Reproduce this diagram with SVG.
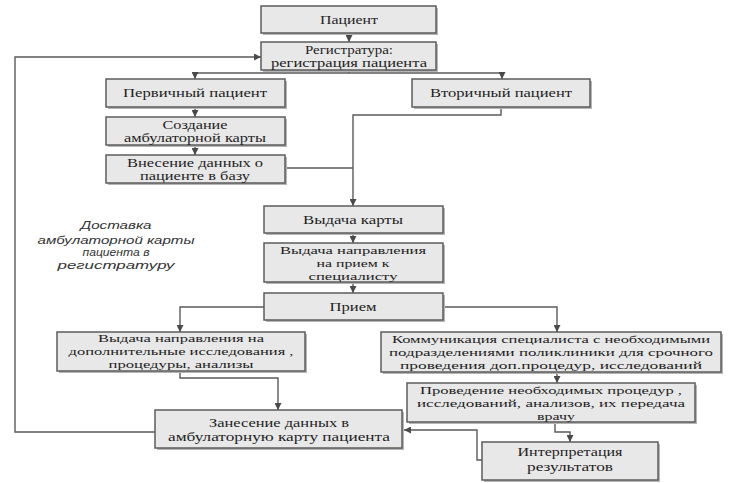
<svg xmlns="http://www.w3.org/2000/svg" width="735" height="483" viewBox="0 0 735 483">
<style>
.box{fill:#e8e8e8;stroke:#5c5c5c;stroke-width:1.5}
.sh{fill:#b5b5b5}
.t{font-family:"Liberation Serif","Times New Roman",serif;font-size:12px;fill:#1e1e1e;text-anchor:middle}
.s{font-size:11px}
.it{font-family:"Liberation Sans",Arial,sans-serif;font-size:11px;font-style:italic;fill:#333;text-anchor:middle}
.c{fill:none;stroke:#5a5a5a;stroke-width:1.4}
</style>
<defs>
<marker id="ar" viewBox="0 0 8 8" refX="8" refY="4" markerWidth="7" markerHeight="7" markerUnits="userSpaceOnUse" orient="auto">
<path d="M0,0 L8,4 L0,8 z" fill="#4a4a4a"/>
</marker>
</defs>
<rect width="735" height="483" fill="#ffffff"/>

<g id="connectors">
<path class="c" d="M349,33 V42" marker-end="url(#ar)"/>
<path class="c" d="M349,70 V73 M195,73 H502"/>
<path class="c" d="M195,73 V79" marker-end="url(#ar)"/>
<path class="c" d="M502,73 V79" marker-end="url(#ar)"/>
<path class="c" d="M195,107 V117" marker-end="url(#ar)"/>
<path class="c" d="M195,145 V155" marker-end="url(#ar)"/>
<path class="c" d="M285,168 H353"/>
<path class="c" d="M501,107 V115 H353 V206" marker-end="url(#ar)"/>
<path class="c" d="M353,233 V243" marker-end="url(#ar)"/>
<path class="c" d="M353,282 V293" marker-end="url(#ar)"/>
<path class="c" d="M264,307 H180 V332" marker-end="url(#ar)"/>
<path class="c" d="M443,307 H557 V332" marker-end="url(#ar)"/>
<path class="c" d="M180,371 V378 H278 V410" marker-end="url(#ar)"/>
<path class="c" d="M557,372 V383" marker-end="url(#ar)"/>
<path class="c" d="M555,422 V432 H570 V442" marker-end="url(#ar)"/>
<path class="c" d="M482,460 H477 V430 H404" marker-end="url(#ar)"/>
<path class="c" d="M155,432 H15 V57 H261" marker-end="url(#ar)"/>
</g>

<g id="n1"><rect class="sh" x="263" y="8" width="175" height="27"/><rect class="box" x="261" y="6" width="175" height="27"/>
<text class="t" x="349" y="24" textLength="58" lengthAdjust="spacingAndGlyphs">Пациент</text></g>

<g id="n2"><rect class="sh" x="263" y="44" width="175" height="28"/><rect class="box" x="261" y="42" width="175" height="28"/>
<text class="t" x="349" y="54" textLength="88" lengthAdjust="spacingAndGlyphs">Регистратура:</text>
<text class="t" x="349" y="67" textLength="156" lengthAdjust="spacingAndGlyphs">регистрация пациента</text></g>

<g id="n3"><rect class="sh" x="108" y="81" width="179" height="28"/><rect class="box" x="106" y="79" width="179" height="28"/>
<text class="t" x="195" y="97" textLength="144" lengthAdjust="spacingAndGlyphs">Первичный пациент</text></g>

<g id="n4"><rect class="sh" x="414" y="81" width="178" height="28"/><rect class="box" x="412" y="79" width="178" height="28"/>
<text class="t" x="501" y="97" textLength="142" lengthAdjust="spacingAndGlyphs">Вторичный пациент</text></g>

<g id="n5"><rect class="sh" x="108" y="119" width="179" height="28"/><rect class="box" x="106" y="117" width="179" height="28"/>
<text class="t" x="195" y="129" textLength="65" lengthAdjust="spacingAndGlyphs">Создание</text>
<text class="t" x="195" y="142" textLength="142" lengthAdjust="spacingAndGlyphs">амбулаторной карты</text></g>

<g id="n6"><rect class="sh" x="108" y="157" width="179" height="28"/><rect class="box" x="106" y="155" width="179" height="28"/>
<text class="t" x="195" y="167" textLength="136" lengthAdjust="spacingAndGlyphs">Внесение данных о</text>
<text class="t" x="195" y="180" textLength="110" lengthAdjust="spacingAndGlyphs">пациенте в базу</text></g>

<g id="n7"><rect class="sh" x="266" y="208" width="179" height="27"/><rect class="box" x="264" y="206" width="179" height="27"/>
<text class="t" x="353" y="224" textLength="100" lengthAdjust="spacingAndGlyphs">Выдача карты</text></g>

<g id="n8"><rect class="sh" x="266" y="245" width="179" height="39"/><rect class="box" x="264" y="243" width="179" height="39"/>
<text class="t s" x="353" y="254" textLength="146" lengthAdjust="spacingAndGlyphs">Выдача направления</text>
<text class="t s" x="353" y="267" textLength="73" lengthAdjust="spacingAndGlyphs">на прием к</text>
<text class="t s" x="353" y="280" textLength="89" lengthAdjust="spacingAndGlyphs">специалисту</text></g>

<g id="n9"><rect class="sh" x="266" y="295" width="179" height="27"/><rect class="box" x="264" y="293" width="179" height="27"/>
<text class="t" x="353" y="311" textLength="47" lengthAdjust="spacingAndGlyphs">Прием</text></g>

<g id="n10"><rect class="sh" x="59" y="334" width="248" height="39"/><rect class="box" x="57" y="332" width="248" height="39"/>
<text class="t s" x="181" y="342" textLength="166" lengthAdjust="spacingAndGlyphs">Выдача направления на</text>
<text class="t s" x="181" y="355" textLength="225" lengthAdjust="spacingAndGlyphs">дополнительные исследования ,</text>
<text class="t s" x="181" y="368" textLength="145" lengthAdjust="spacingAndGlyphs">процедуры, анализы</text></g>

<g id="n11"><rect class="sh" x="383" y="334" width="340" height="40"/><rect class="box" x="381" y="332" width="340" height="40"/>
<text class="t s" x="551" y="343" textLength="318" lengthAdjust="spacingAndGlyphs">Коммуникация специалиста с необходимыми</text>
<text class="t s" x="551" y="356" textLength="324" lengthAdjust="spacingAndGlyphs">подразделениями поликлиники для срочного</text>
<text class="t s" x="551" y="369" textLength="302" lengthAdjust="spacingAndGlyphs">проведения доп.процедур, исследований</text></g>

<g id="n12"><rect class="sh" x="409" y="385" width="288" height="39"/><rect class="box" x="407" y="383" width="288" height="39"/>
<text class="t s" x="551" y="394" textLength="262" lengthAdjust="spacingAndGlyphs">Проведение необходимых процедур ,</text>
<text class="t s" x="551" y="407" textLength="268" lengthAdjust="spacingAndGlyphs">исследований, анализов, их передача</text>
<text class="t s" x="556" y="420" textLength="38" lengthAdjust="spacingAndGlyphs">врачу</text></g>

<g id="n13"><rect class="sh" x="157" y="412" width="247" height="38"/><rect class="box" x="155" y="410" width="247" height="38"/>
<text class="t" x="279" y="427" textLength="140" lengthAdjust="spacingAndGlyphs">Занесение данных в</text>
<text class="t" x="279" y="441" textLength="222" lengthAdjust="spacingAndGlyphs">амбулаторную карту пациента</text></g>

<g id="n14"><rect class="sh" x="484" y="444" width="176" height="38"/><rect class="box" x="482" y="442" width="176" height="38"/>
<text class="t" x="570" y="456" textLength="105" lengthAdjust="spacingAndGlyphs">Интерпретация</text>
<text class="t" x="570" y="471" textLength="86" lengthAdjust="spacingAndGlyphs">результатов</text></g>

<g id="label">
<text class="it" x="116" y="229" textLength="71" lengthAdjust="spacingAndGlyphs">Доставка</text>
<text class="it" x="116" y="244" textLength="157" lengthAdjust="spacingAndGlyphs">амбулаторной карты</text>
<text class="it" x="116" y="256" textLength="67" lengthAdjust="spacingAndGlyphs">пациента в</text>
<text class="it" x="116" y="269" textLength="117" lengthAdjust="spacingAndGlyphs">регистратуру</text>
</g>
</svg>
